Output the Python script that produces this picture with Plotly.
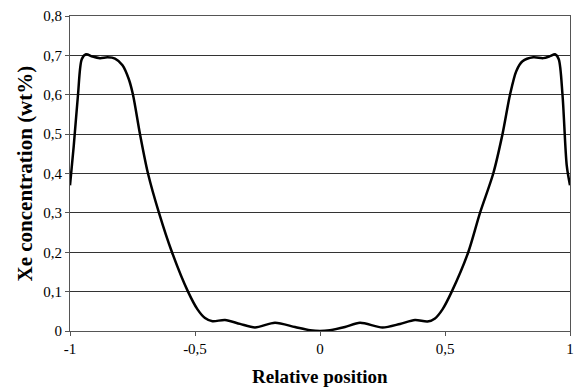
import plotly.graph_objects as go

# Relative position across the sample and Xe concentration (wt%)
position = [-1.0, -0.985, -0.968, -0.953, -0.936, -0.91, -0.88, -0.85, -0.82, -0.79,
            -0.765, -0.748, -0.72, -0.688, -0.644, -0.592, -0.528, -0.49, -0.46, -0.43,
            -0.38, -0.32, -0.26, -0.18, -0.1, -0.04, 0.0,
            0.04, 0.1, 0.16, 0.25, 0.32, 0.38, 0.43, 0.46, 0.49, 0.527,
            0.593, 0.64, 0.693, 0.73, 0.76, 0.785, 0.81, 0.853, 0.893, 0.92,
            0.94, 0.955, 0.97, 0.987, 1.0]
xe_conc = [0.37, 0.47, 0.6, 0.69, 0.703, 0.697, 0.693, 0.695, 0.692, 0.675,
           0.64, 0.6, 0.5, 0.4, 0.3, 0.2, 0.1, 0.055, 0.033, 0.025,
           0.028, 0.018, 0.009, 0.021, 0.01, 0.002, 0.0,
           0.002, 0.01, 0.021, 0.009, 0.018, 0.028, 0.024, 0.032, 0.055, 0.1,
           0.2, 0.3, 0.4, 0.5, 0.6, 0.66, 0.685, 0.695, 0.693, 0.698,
           0.703, 0.69, 0.6, 0.42, 0.37]

x_ticks = [-1, -0.5, 0, 0.5, 1]
x_labels = ["-1", "-0,5", "0", "0,5", "1"]
y_ticks = [0, 0.1, 0.2, 0.3, 0.4, 0.5, 0.6, 0.7, 0.8]
y_labels = ["0", "0,1", "0,2", "0,3", "0,4", "0,5", "0,6", "0,7", "0,8"]

x_title = "Relative position"
y_title = "Xe concentration (wt%)"

font_family = "Liberation Serif"

fig = go.Figure(
    go.Scatter(
        x=position, y=xe_conc, mode="lines",
        line=dict(color="black", width=2.5, shape="spline", smoothing=0.8),
        hoverinfo="skip",
    )
)

fig.update_layout(
    width=577, height=390,
    margin=dict(l=70, r=7, t=16, b=59),
    paper_bgcolor="white", plot_bgcolor="white",
    showlegend=False,
    font=dict(family=font_family, size=15, color="black"),
    annotations=[
        dict(text=f"<b>{x_title}</b>", xref="paper", yref="paper", x=0.5, y=0,
             xanchor="center", yanchor="bottom", yshift=-58, showarrow=False,
             font=dict(size=19)),
        dict(text=f"<b>{y_title}</b>", xref="paper", yref="paper", x=0, y=0.5,
             xanchor="center", yanchor="middle", xshift=-46, textangle=-90,
             showarrow=False, font=dict(size=21)),
    ],
)

fig.update_xaxes(
    range=[-1, 1], tickvals=x_ticks, ticktext=x_labels, automargin=False,
    showgrid=False, zeroline=False,
    showline=True, linecolor="#555", linewidth=1, mirror=True,
    ticks="outside", ticklen=4, tickcolor="#555",
)
fig.update_yaxes(
    range=[0, 0.8], tickvals=y_ticks, ticktext=y_labels, automargin=False,
    showgrid=True, gridcolor="#333", gridwidth=1, zeroline=False,
    showline=True, linecolor="#555", linewidth=1, mirror=True,
    ticks="outside", ticklen=4, tickcolor="#555",
)

fig.write_html("out.html")
